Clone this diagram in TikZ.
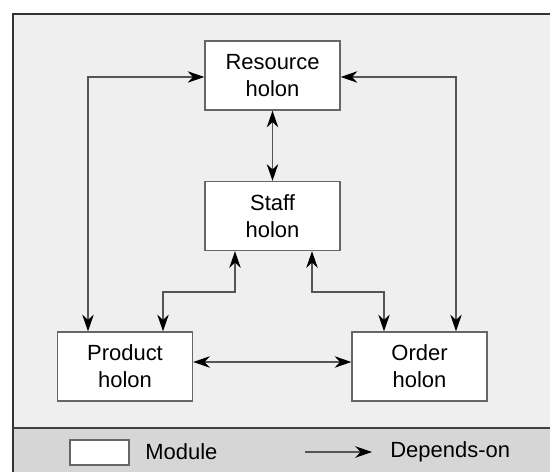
\documentclass[tikz,border=0pt]{standalone}
\usepackage{fontspec}
\setmainfont{Liberation Sans}
\usetikzlibrary{arrows.meta}

\definecolor{panel}{HTML}{EFEFEF}
\definecolor{keybar}{HTML}{D6D6D6}
\definecolor{wire}{HTML}{555555}

\begin{document}
\begin{tikzpicture}[x=0.02cm,y=-0.02cm,
    holon/.style={draw=black!60, fill=white, line width=0.75pt,
        minimum width=2.7cm, minimum height=1.38cm, align=center,
        inner sep=0pt, font=\fontsize{12.5}{15.5}\selectfont},
    label/.style={anchor=west, inner sep=0pt, font=\fontsize{12.5}{15.5}\selectfont},
    >={Stealth[length=9.5pt,width=6.5pt,inset=3pt,color=black]},
    dep/.style={draw=wire, line width=0.75pt, <->}]
    \useasboundingbox (0,0) rectangle (550,472);
    \clip (0,0) rectangle (550,472);

    % Panel and key strip
    \fill[panel] (13,14) rectangle (560,428);
    \fill[keybar] (13,428) rectangle (560,480);
    \draw[black!80, line width=1.4pt] (13,480) -- (13,14) -- (560,14);
    \draw[black!75, line width=1pt] (13,428) -- (560,428);

    % Holons
    \node[holon] (res) at (272.5,75.5) {Resource\\holon};
    \node[holon] (staff) at (272.5,216) {Staff\\holon};
    \node[holon] (prod) at (125,366.5) {Product\\holon};
    \node[holon] (order) at (419.5,366.5) {Order\\holon};

    % Bend points
    \coordinate (lft) at (88,77);
    \coordinate (rgt) at (456,77);
    \coordinate (sl) at (235,292);
    \coordinate (sr) at (312,292);
    \coordinate (pl) at (163,292);
    \coordinate (or) at (384,292);

    % Depends-on links
    \draw[dep] (res.west |- lft) -- (lft) -- (lft |- prod.north);
    \draw[dep] (res.east |- rgt) -- (rgt) -- (rgt |- order.north);
    \draw[dep] (res.south) -- (staff.north);
    \draw[dep] (sl |- staff.south) -- (sl) -- (pl) -- (pl |- prod.north);
    \draw[dep] (sr |- staff.south) -- (sr) -- (or) -- (or |- order.north);
    \draw[dep] (prod.east |- 0,362) -- (order.west |- 0,362);

    % Key
    \node[draw=black!60, fill=white, line width=0.75pt, minimum width=1.18cm,
        minimum height=0.5cm, inner sep=0pt] (mod) at (99.5,452.5) {};
    \node[label] (modtxt) at (145,452) {Module};
    \coordinate (ka) at (305,452);
    \coordinate (kb) at (372,452);
    \draw[draw=wire, line width=0.75pt, ->] (ka) -- (kb);
    \node[label] (deptxt) at (390,452) {Depends-on};
\end{tikzpicture}
\end{document}
